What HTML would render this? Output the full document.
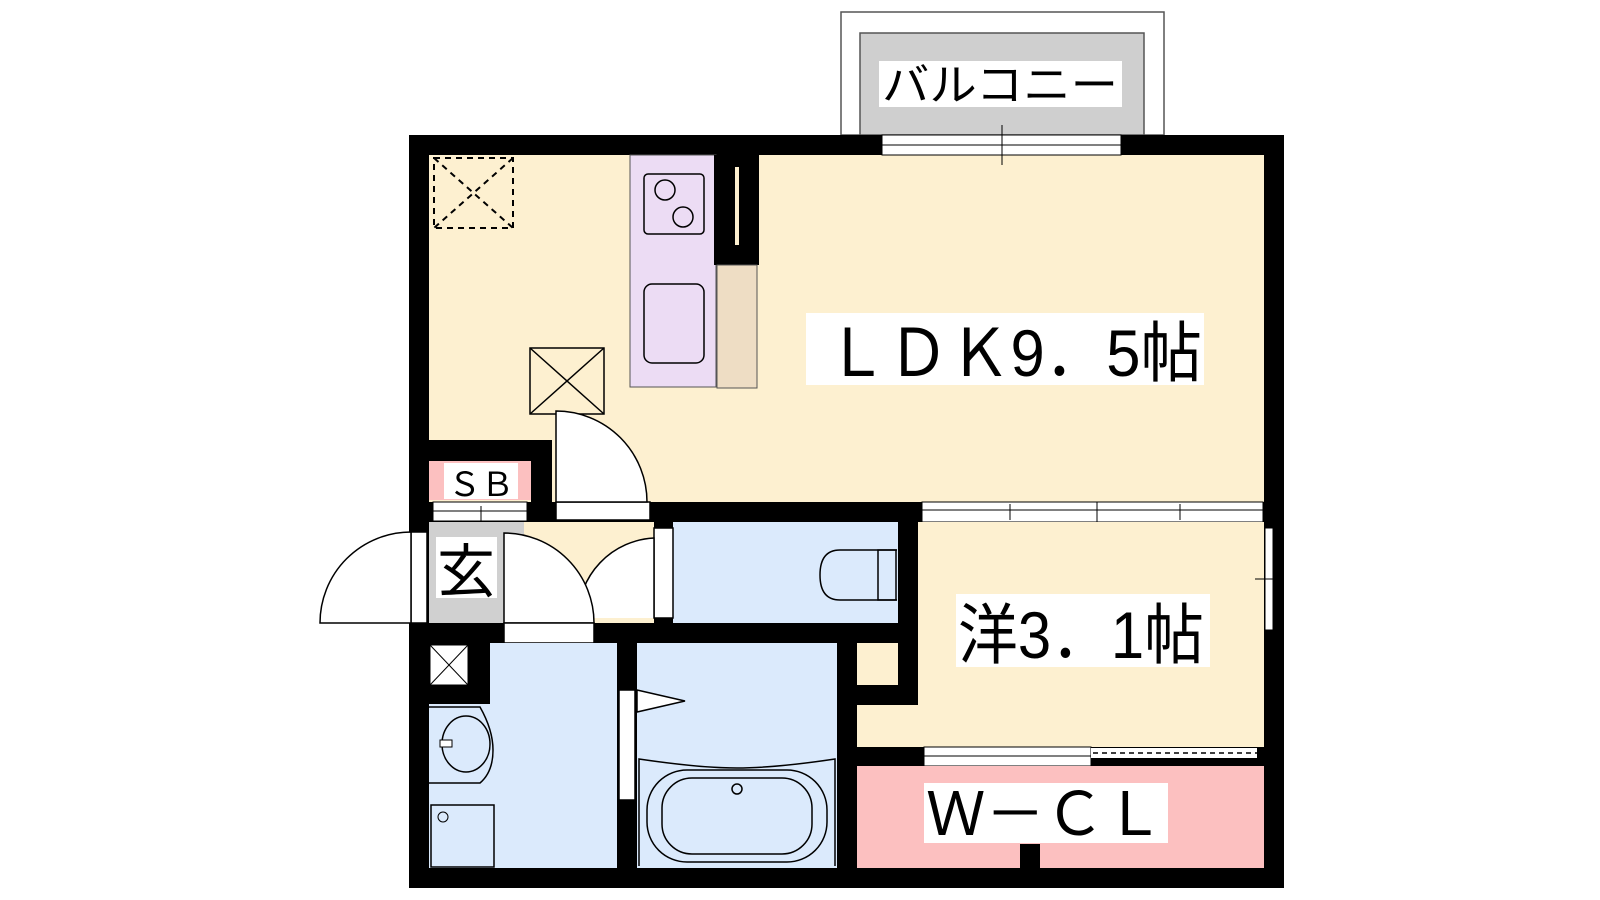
<!DOCTYPE html>
<html><head><meta charset="utf-8"><style>
html,body{margin:0;padding:0;background:#fff;width:1600px;height:900px;overflow:hidden}
text{font-family:"Liberation Sans","Noto Sans CJK JP",sans-serif}
</style></head><body>
<svg width="1600" height="900" viewBox="0 0 1600 900" xmlns="http://www.w3.org/2000/svg">
<!-- balcony -->
<rect x="841" y="12" width="323" height="123" fill="#fff" stroke="#555" stroke-width="1.5"/>
<rect x="860" y="33" width="284" height="102" fill="#cfcfcf" stroke="#555" stroke-width="1.5"/>
<rect x="879" y="61" width="243" height="46" fill="#fff"/>
<text x="882" y="100" font-size="44" textLength="236" lengthAdjust="spacingAndGlyphs" fill="#000">バルコニー</text>
<!-- outer walls -->
<rect x="409" y="135" width="875" height="753" fill="#000"/>
<!-- LDK -->
<rect x="429" y="155" width="835" height="347" fill="#fdf0d0"/>
<!-- top window -->
<rect x="882" y="135" width="239" height="20" fill="#fff" stroke="#000" stroke-width="1"/>
<line x1="882" y1="145" x2="1121" y2="145" stroke="#000"/>
<line x1="1002" y1="125" x2="1002" y2="165" stroke="#000"/>
<!-- dashed box -->
<rect x="434" y="158" width="79" height="70" fill="none" stroke="#000" stroke-width="2" stroke-dasharray="6,5"/>
<line x1="434" y1="158" x2="513" y2="228" stroke="#000" stroke-width="2" stroke-dasharray="6,5"/>
<line x1="513" y1="158" x2="434" y2="228" stroke="#000" stroke-width="2" stroke-dasharray="6,5"/>
<!-- kitchen -->
<rect x="630" y="155" width="86" height="232" fill="#ecdcf4" stroke="#555" stroke-width="1"/>
<rect x="644" y="174" width="60" height="60" rx="4" fill="none" stroke="#000" stroke-width="1.5"/>
<circle cx="665" cy="190" r="10" fill="none" stroke="#000" stroke-width="1.5"/>
<circle cx="683" cy="217" r="10" fill="none" stroke="#000" stroke-width="1.5"/>
<rect x="644" y="284" width="60" height="79" rx="8" fill="none" stroke="#000" stroke-width="1.5"/>
<rect x="714" y="155" width="45" height="110" fill="#000"/>
<rect x="735" y="167" width="4" height="78" fill="#fdf0d0"/>
<rect x="717" y="265" width="40" height="123" fill="#eeddc4" stroke="#555" stroke-width="1"/>
<!-- X box -->
<rect x="530" y="348" width="74" height="66" fill="none" stroke="#000" stroke-width="1.5"/>
<line x1="530" y1="348" x2="604" y2="414" stroke="#000" stroke-width="1.5"/>
<line x1="604" y1="348" x2="530" y2="414" stroke="#000" stroke-width="1.5"/>
<!-- LDK label -->
<rect x="806" y="313" width="398" height="72" fill="#fff"/>
<text x="826" y="376" font-size="66" textLength="376" lengthAdjust="spacingAndGlyphs" fill="#000">ＬＤＫ9．5帖</text>
<!-- SB partition -->
<rect x="429" y="440" width="123" height="21" fill="#000"/>
<rect x="531" y="440" width="21" height="82" fill="#000"/>
<rect x="429" y="461" width="102" height="39" fill="#fcc0c0"/>
<rect x="444" y="463" width="74" height="36" fill="#fff"/>
<text x="481" y="496" font-size="33" text-anchor="middle" fill="#000">ＳＢ</text>
<rect x="433" y="502" width="94" height="19" fill="#fff" stroke="#000" stroke-width="1"/>
<line x1="433" y1="511" x2="527" y2="511" stroke="#000"/>
<line x1="481" y1="506" x2="481" y2="521" stroke="#000"/>
<!-- LDK door -->
<rect x="556" y="502" width="94" height="18" fill="#fff" stroke="#000" stroke-width="1.5"/>
<path d="M556 502 L556 411 A91 91 0 0 1 647 502 Z" fill="#fff" stroke="#000" stroke-width="1.5"/>
<!-- west window strip -->
<rect x="922" y="502" width="341" height="20" fill="#fff" stroke="#000" stroke-width="1"/>
<line x1="922" y1="510" x2="1263" y2="510" stroke="#000"/>
<line x1="1097" y1="502" x2="1097" y2="522" stroke="#000"/>
<line x1="1010" y1="504" x2="1010" y2="520" stroke="#000"/>
<line x1="1180" y1="504" x2="1180" y2="520" stroke="#000"/>
<!-- entrance -->
<rect x="429" y="522" width="95" height="101" fill="#d0d0d0"/>
<rect x="545" y="522" width="109" height="101" fill="#fdf0d0"/>
<rect x="524" y="522" width="21" height="101" fill="#fdf0d0"/>
<rect x="436" y="537" width="61" height="61" fill="#fff"/>
<text x="466" y="592" font-size="58" text-anchor="middle" fill="#000">玄</text>
<!-- exterior door -->
<rect x="411" y="532" width="16" height="91" fill="#fff" stroke="#000" stroke-width="1.5"/>
<path d="M411 623 L411 532 A91 91 0 0 0 320 623 Z" fill="#fff" stroke="#000" stroke-width="1.5"/>
<!-- toilet -->
<rect x="673" y="522" width="225" height="101" fill="#dbeafc"/>
<path d="M897 550 L840 550 Q820 550 820 575 Q820 600 840 600 L897 600" fill="none" stroke="#000" stroke-width="1.5"/>
<rect x="878" y="550" width="18" height="50" fill="none" stroke="#000" stroke-width="1.5"/>
<rect x="654" y="528" width="19" height="90" fill="#fff" stroke="#000" stroke-width="1.5"/>
<path d="M654 618 L654 538 A80 80 0 0 0 578 618" fill="#fff" stroke="#000" stroke-width="1.5"/>
<!-- inner door -->
<path d="M504 623 L504 533 A90 90 0 0 1 594 623 Z" fill="#fff" stroke="#000" stroke-width="1.5"/>
<rect x="504" y="623" width="90" height="20" fill="#fff" stroke="#000" stroke-width="1.5"/>
<!-- western room -->
<rect x="918" y="522" width="346" height="225" fill="#fdf0d0"/>
<rect x="857" y="643" width="41" height="42" fill="#fdf0d0"/>
<rect x="857" y="705" width="61" height="42" fill="#fdf0d0"/>
<rect x="1265" y="528" width="8" height="102" fill="#fff" stroke="#000" stroke-width="1"/>
<line x1="1255" y1="579" x2="1284" y2="579" stroke="#000"/>
<rect x="956" y="594" width="254" height="73" fill="#fff"/>
<text x="958" y="658" font-size="66" textLength="246" lengthAdjust="spacingAndGlyphs" fill="#000">洋3．1帖</text>
<!-- WCL -->
<rect x="924" y="747" width="167" height="19" fill="#fff" stroke="#000" stroke-width="1"/>
<line x1="924" y1="756" x2="1091" y2="756" stroke="#000"/>
<rect x="1091" y="748" width="166" height="10" fill="#fff"/>
<line x1="1093" y1="753" x2="1257" y2="753" stroke="#000" stroke-width="1.5" stroke-dasharray="5,4"/>
<rect x="857" y="766" width="407" height="102" fill="#fcc0c0"/>
<rect x="924" y="783" width="244" height="60" fill="#fff"/>
<text x="926" y="835" font-size="60" textLength="238" lengthAdjust="spacingAndGlyphs" fill="#000">Ｗ－ＣＬ</text>
<rect x="1020" y="844" width="20" height="24" fill="#000"/>
<!-- wash room -->
<rect x="490" y="643" width="127" height="225" fill="#dbeafc"/>
<rect x="429" y="704" width="61" height="164" fill="#dbeafc"/>
<rect x="430" y="645" width="38" height="40" fill="#fff" stroke="#000" stroke-width="1"/>
<line x1="430" y1="645" x2="468" y2="685" stroke="#000"/>
<line x1="468" y1="645" x2="430" y2="685" stroke="#000"/>
<path d="M429 707 L480 707 Q493 730 493 750 Q493 772 480 783 L429 783" fill="none" stroke="#000" stroke-width="1.5"/>
<ellipse cx="466" cy="744" rx="24" ry="28" fill="none" stroke="#000" stroke-width="1.5"/>
<rect x="440" y="740" width="12" height="7" fill="#fff" stroke="#000"/>
<rect x="431" y="805" width="63" height="62" fill="none" stroke="#000" stroke-width="1.5"/>
<circle cx="443" cy="817" r="5" fill="none" stroke="#000"/>
<!-- bath -->
<rect x="637" y="643" width="200" height="225" fill="#dbeafc"/>
<rect x="619" y="690" width="16" height="110" fill="#fff" stroke="#000" stroke-width="1.5"/>
<path d="M637 690 L685 701 L637 712 Z" fill="#fff" stroke="#000" stroke-width="1.5"/>
<path d="M639 866 L639 759 Q700 768 737 768 Q775 768 835 759 L835 866" fill="none" stroke="#000" stroke-width="1.5"/>
<rect x="647" y="770" width="180" height="92" rx="40" fill="none" stroke="#000" stroke-width="1.5"/>
<rect x="662" y="778" width="150" height="76" rx="30" fill="none" stroke="#000" stroke-width="1.5"/>
<circle cx="737" cy="789" r="5" fill="none" stroke="#000" stroke-width="1.5"/>
</svg>
</body></html>
